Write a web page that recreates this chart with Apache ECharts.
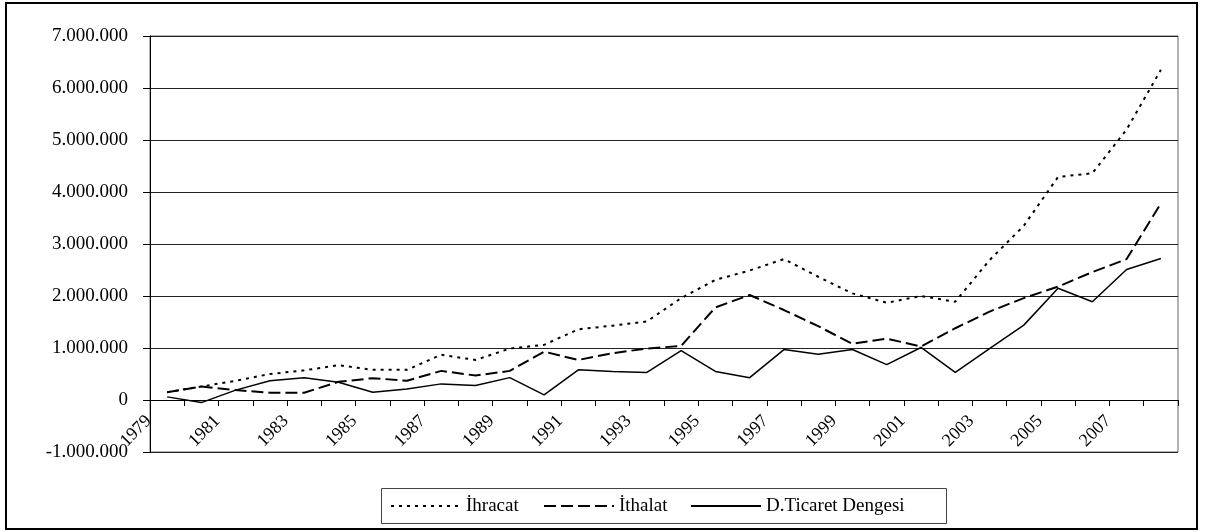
<!DOCTYPE html>
<html>
<head>
<meta charset="utf-8">
<script src="https://cdn.jsdelivr.net/npm/echarts@6/dist/echarts.min.js"></script>
<style>
	html, body { margin: 0; padding: 0; background: #fff; }
	#tradeChart { width: 1208px; height: 532px; }
</style>
</head>
<body>
<div id="tradeChart"></div>
<script>
	// yillar
	var years = ['1979','1980','1981','1982','1983','1984','1985','1986','1987','1988',
		'1989','1990','1991','1992','1993','1994','1995','1996','1997','1998',
		'1999','2000','2001','2002','2003','2004','2005','2006','2007','2008'];

	// ihracat (noktali cizgi)
	var ihracat = [150000, 260000, 370000, 500000, 570000, 670000, 580000, 580000, 870000, 770000,
		990000, 1060000, 1360000, 1430000, 1510000, 1960000, 2310000, 2490000, 2710000, 2370000,
		2050000, 1870000, 2000000, 1890000, 2690000, 3350000, 4290000, 4360000, 5200000, 6350000];

	// ithalat (kesikli cizgi)
	var ithalat = [150000, 260000, 190000, 140000, 140000, 350000, 420000, 370000, 560000, 470000,
		560000, 930000, 770000, 900000, 990000, 1040000, 1780000, 2020000, 1730000, 1420000,
		1080000, 1180000, 1030000, 1380000, 1700000, 1960000, 2180000, 2460000, 2710000, 3780000];

	// dis ticaret dengesi (duz cizgi)
	var dengesi = [60000, -50000, 190000, 370000, 430000, 340000, 150000, 210000, 310000, 280000,
		430000, 100000, 580000, 550000, 530000, 950000, 550000, 430000, 970000, 880000,
		970000, 680000, 1010000, 530000, 990000, 1440000, 2150000, 1890000, 2510000, 2720000];

	var seriesNames = ['İhracat', 'İthalat', 'D.Ticaret Dengesi'];

	var yTicks = { min: -1000000, max: 7000000, step: 1000000 };

	var serif = "'Liberation Serif', 'Times New Roman', serif";

	function noktaliSayi(v) {
		var s = String(Math.abs(v)).replace(/\B(?=(\d{3})+(?!\d))/g, '.');
		return v < 0 ? '-' + s : s;
	}

	// her seri icin ayri lejant (kutu graphic ile ciziliyor)
	function lejant(name, left) {
		return {
			left: left,
			top: 496,
			padding: 0,
			itemWidth: 70,
			itemHeight: 14,
			itemStyle: { opacity: 0 },
			textStyle: { fontFamily: serif, fontSize: 19, color: '#000', lineHeight: 20 },
			data: [name]
		};
	}

	var tradeChart_option = {
		animation: false,
		backgroundColor: '#fff',
		textStyle: { fontFamily: serif, color: '#000' },
		grid: {
			left: 150,
			right: 30,
			top: 36,
			bottom: 80,
			show: true,
			borderColor: '#666',
			borderWidth: 1
		},
		legend: [
			lejant(seriesNames[0], 390),
			lejant(seriesNames[1], 543),
			lejant(seriesNames[2], 690)
		],
		xAxis: {
			type: 'category',
			data: years,
			boundaryGap: true,
			axisLine: { onZero: true, lineStyle: { color: '#000', width: 1 } },
			axisTick: { show: true, interval: 0, length: 6, alignWithLabel: false, lineStyle: { color: '#000' } },
			axisLabel: {
				interval: 1,
				rotate: 45,
				margin: -52,
				padding: [0, 26, 0, 0],
				fontFamily: serif,
				fontSize: 18,
				color: '#000'
			},
			splitLine: { show: false }
		},
		yAxis: {
			type: 'value',
			min: yTicks.min,
			max: yTicks.max,
			interval: yTicks.step,
			axisLine: { show: true, lineStyle: { color: '#000', width: 1 } },
			axisTick: { show: true, length: 7, lineStyle: { color: '#000' } },
			axisLabel: {
				margin: 22,
				fontFamily: serif,
				fontSize: 19,
				color: '#000',
				formatter: noktaliSayi
			},
			splitLine: { show: true, lineStyle: { color: '#222', width: 1 } }
		},
		series: [
			{
				name: seriesNames[0],
				type: 'line',
				data: ihracat,
				symbol: 'none',
				lineStyle: { color: '#000', width: 2, type: [3, 5] },
				itemStyle: { color: '#000' }
			},
			{
				name: seriesNames[1],
				type: 'line',
				data: ithalat,
				symbol: 'none',
				lineStyle: { color: '#000', width: 2, type: [12, 5] },
				itemStyle: { color: '#000' }
			},
			{
				name: seriesNames[2],
				type: 'line',
				data: dengesi,
				symbol: 'none',
				lineStyle: { color: '#000', width: 1.5, type: 'solid' },
				itemStyle: { color: '#000' }
			}
		],
		graphic: [
			{
				type: 'rect',
				silent: true,
				shape: { x: 6, y: 3, width: 1191, height: 526 },
				style: { fill: null, stroke: '#000', lineWidth: 2 }
			},
			{
				type: 'rect',
				silent: true,
				shape: { x: 381.5, y: 488.5, width: 565, height: 35 },
				style: { fill: null, stroke: '#444', lineWidth: 1 }
			}
		]
	};

	var tradeChart = echarts.init(document.getElementById('tradeChart'));
	tradeChart.setOption(tradeChart_option, true);
</script>
</body>
</html>
